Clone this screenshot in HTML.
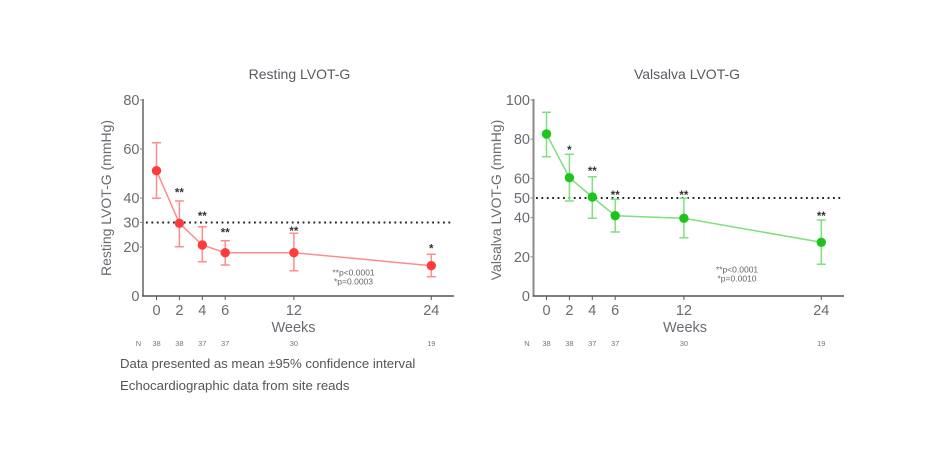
<!DOCTYPE html>
<html><head><meta charset="utf-8"><style>
html,body{margin:0;padding:0;background:#fff;}
svg{display:block;}
text{font-family:"Liberation Sans",Arial,sans-serif;}
</style></head><body>
<svg width="940" height="454" viewBox="0 0 940 454" xmlns="http://www.w3.org/2000/svg">
<rect width="940" height="454" fill="#fff"/>

<!-- ===== LEFT CHART ===== -->
<text x="299.5" y="79" font-size="14" fill="#5a5a62" text-anchor="middle">Resting LVOT-G</text>
<text transform="translate(111,198) rotate(-90)" font-size="14" fill="#6b6b73" text-anchor="middle">Resting LVOT-G (mmHg)</text>
<!-- y axis -->
<line x1="143" y1="99" x2="143" y2="296" stroke="#8a8a8a" stroke-width="2"/>
<g stroke="#8a8a8a" stroke-width="1">
<line x1="140" y1="100" x2="143" y2="100"/><line x1="140" y1="149" x2="143" y2="149"/>
<line x1="140" y1="198" x2="143" y2="198"/><line x1="140" y1="222.5" x2="143" y2="222.5"/>
<line x1="140" y1="247" x2="143" y2="247"/>
</g>
<g font-size="14.5" fill="#6b6b73" text-anchor="end">
<text x="139.5" y="105">80</text><text x="139.5" y="154">60</text><text x="139.5" y="203">40</text>
<text x="139.5" y="227.5">30</text><text x="139.5" y="252">20</text><text x="139.5" y="301">0</text>
</g>
<!-- x axis -->
<line x1="142" y1="296" x2="454" y2="296" stroke="#555" stroke-width="1.5"/>
<g stroke="#555" stroke-width="1">
<line x1="156.5" y1="296" x2="156.5" y2="300"/><line x1="179.4" y1="296" x2="179.4" y2="300"/>
<line x1="202.3" y1="296" x2="202.3" y2="300"/><line x1="225.2" y1="296" x2="225.2" y2="300"/>
<line x1="293.9" y1="296" x2="293.9" y2="300"/><line x1="431.3" y1="296" x2="431.3" y2="300"/>
</g>
<g font-size="14.5" fill="#6b6b73" text-anchor="middle">
<text x="156.5" y="315">0</text><text x="179.4" y="315">2</text><text x="202.3" y="315">4</text>
<text x="225.2" y="315">6</text><text x="293.9" y="315">12</text><text x="431.3" y="315">24</text>
<text x="293.5" y="332">Weeks</text>
</g>
<g font-size="7.5" fill="#777" text-anchor="middle">
<text x="138.5" y="346">N</text><text x="156.5" y="346">38</text><text x="179.4" y="346">38</text>
<text x="202.3" y="346">37</text><text x="225.2" y="346">37</text><text x="293.9" y="346">30</text>
<text x="431.3" y="346">19</text>
</g>
<!-- dotted reference -->
<line x1="146" y1="222.5" x2="452" y2="222.5" stroke="#222" stroke-width="2" stroke-dasharray="1.8 3.6"/>
<!-- series -->
<g stroke="#ff8c8c" stroke-width="1.5" fill="none">
<polyline points="156.5,170.7 179.4,223.3 202.3,245 225.2,252.7 293.9,252.7 431.3,265.7"/>
<path d="M156.5 142.7V198.3M152 142.7h9M152 198.3h9
M179.4 201V246.7M174.9 201h9M174.9 246.7h9
M202.3 226.7V261.7M197.8 226.7h9M197.8 261.7h9
M225.2 240.7V265M220.7 240.7h9M220.7 265h9
M293.9 233.3V270.7M289.4 233.3h9M289.4 270.7h9
M431.3 254.3V276.7M426.8 254.3h9M426.8 276.7h9"/>
</g>
<g fill="#ff3c3c">
<circle cx="156.5" cy="170.7" r="4.7"/><circle cx="179.4" cy="223.3" r="4.7"/>
<circle cx="202.3" cy="245" r="4.7"/><circle cx="225.2" cy="252.7" r="4.7"/>
<circle cx="293.9" cy="252.7" r="4.7"/><circle cx="431.3" cy="265.7" r="4.7"/>
</g>
<g font-size="11.5" font-weight="bold" fill="#333" text-anchor="middle">
<text x="179.4" y="196.5">**</text><text x="202.3" y="219.8">**</text><text x="225.2" y="236.5">**</text>
<text x="293.9" y="234.8">**</text><text x="431.3" y="252.5">*</text>
</g>
<g font-size="8.5" fill="#666" text-anchor="middle">
<text x="353.5" y="275.7">**p&lt;0.0001</text><text x="353.5" y="284.7">*p=0.0003</text>
</g>

<!-- ===== RIGHT CHART ===== -->
<text x="687" y="79" font-size="14" fill="#5a5a62" text-anchor="middle">Valsalva LVOT-G</text>
<text transform="translate(501,200) rotate(-90)" font-size="14" fill="#6b6b73" text-anchor="middle">Valsalva LVOT-G (mmHg)</text>
<line x1="533.5" y1="99" x2="533.5" y2="296" stroke="#8a8a8a" stroke-width="2"/>
<g stroke="#8a8a8a" stroke-width="1">
<line x1="530.5" y1="100" x2="533.5" y2="100"/><line x1="530.5" y1="139.2" x2="533.5" y2="139.2"/>
<line x1="530.5" y1="178.4" x2="533.5" y2="178.4"/><line x1="530.5" y1="198" x2="533.5" y2="198"/>
<line x1="530.5" y1="217.6" x2="533.5" y2="217.6"/><line x1="530.5" y1="256.8" x2="533.5" y2="256.8"/>
</g>
<g font-size="14.5" fill="#6b6b73" text-anchor="end">
<text x="530" y="105">100</text><text x="530" y="144.2">80</text><text x="530" y="183.4">60</text>
<text x="530" y="203">50</text><text x="530" y="222.6">40</text><text x="530" y="261.8">20</text>
<text x="530" y="301">0</text>
</g>
<line x1="532.5" y1="296" x2="844" y2="296" stroke="#555" stroke-width="1.5"/>
<g stroke="#555" stroke-width="1">
<line x1="546.5" y1="296" x2="546.5" y2="300"/><line x1="569.4" y1="296" x2="569.4" y2="300"/>
<line x1="592.3" y1="296" x2="592.3" y2="300"/><line x1="615.2" y1="296" x2="615.2" y2="300"/>
<line x1="683.9" y1="296" x2="683.9" y2="300"/><line x1="821.3" y1="296" x2="821.3" y2="300"/>
</g>
<g font-size="14.5" fill="#6b6b73" text-anchor="middle">
<text x="546.5" y="315">0</text><text x="569.4" y="315">2</text><text x="592.3" y="315">4</text>
<text x="615.2" y="315">6</text><text x="683.9" y="315">12</text><text x="821.3" y="315">24</text>
<text x="685" y="332">Weeks</text>
</g>
<g font-size="7.5" fill="#777" text-anchor="middle">
<text x="527" y="346">N</text><text x="546.5" y="346">38</text><text x="569.4" y="346">38</text>
<text x="592.3" y="346">37</text><text x="615.2" y="346">37</text><text x="683.9" y="346">30</text>
<text x="821.3" y="346">19</text>
</g>
<line x1="536" y1="198" x2="842" y2="198" stroke="#222" stroke-width="2" stroke-dasharray="1.8 3.6"/>
<g stroke="#7ee07e" stroke-width="1.5" fill="none">
<polyline points="546.5,134 569.4,177.7 592.3,197 615.2,215.7 683.9,218.3 821.3,242.3"/>
<path d="M546.5 112.3V156.7M542 112.3h9M542 156.7h9
M569.4 154.3V201M564.9 154.3h9M564.9 201h9
M592.3 176.7V218.3M587.8 176.7h9M587.8 218.3h9
M615.2 199.3V232M610.7 199.3h9M610.7 232h9
M683.9 198.3V237.7M679.4 198.3h9M679.4 237.7h9
M821.3 220V264.3M816.8 220h9M816.8 264.3h9"/>
</g>
<g fill="#1cc41c">
<circle cx="546.5" cy="134" r="4.7"/><circle cx="569.4" cy="177.7" r="4.7"/>
<circle cx="592.3" cy="197" r="4.7"/><circle cx="615.2" cy="215.7" r="4.7"/>
<circle cx="683.9" cy="218.3" r="4.7"/><circle cx="821.3" cy="242.3" r="4.7"/>
</g>
<g font-size="11.5" font-weight="bold" fill="#333" text-anchor="middle">
<text x="569.4" y="153.8">*</text><text x="592.3" y="174.8">**</text><text x="615.2" y="199.2">**</text>
<text x="683.9" y="199.2">**</text><text x="821.3" y="219.8">**</text>
</g>
<g font-size="8.5" fill="#666" text-anchor="middle">
<text x="737" y="272.3">**p&lt;0.0001</text><text x="737" y="281.3">*p=0.0010</text>
</g>

<!-- footnotes -->
<g font-size="13.2" fill="#555">
<text x="120" y="368">Data presented as mean ±95% confidence interval</text>
<text x="120" y="390">Echocardiographic data from site reads</text>
</g>
</svg>
</body></html>
